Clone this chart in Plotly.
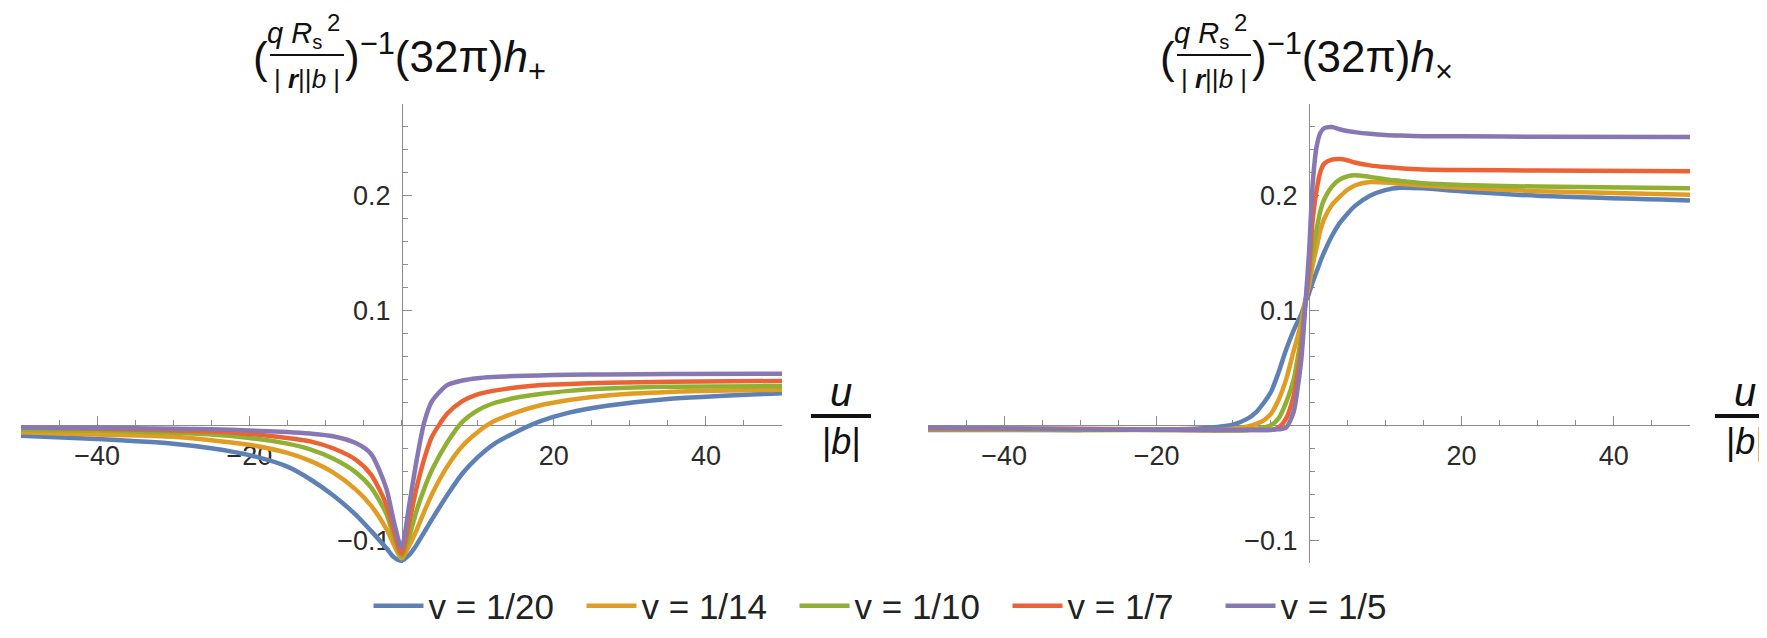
import plotly.graph_objects as go

# ---------------- data ----------------
LEGEND_NAMES = ["v = 1/20", "v = 1/14", "v = 1/10", "v = 1/7", "v = 1/5"]
COLORS = ["#5E81B5", "#E19C24", "#8FB032", "#EB6235", "#8778B3"]

# left panel: h_plus vs u/|b|
U_PLUS = [-50, -40, -30, -25, -20, -15, -12, -9, -6, -4, -2, -1, 0, 1, 2, 3, 4, 6, 8, 10, 12, 15, 18, 22, 27, 35, 50]
HP_V20 = [-0.009, -0.012, -0.016, -0.020, -0.026, -0.036, -0.047, -0.061, -0.078, -0.092, -0.107, -0.115, -0.118,
          -0.113, -0.104, -0.093, -0.082, -0.061, -0.042, -0.028, -0.017, -0.006, 0.003, 0.011, 0.017, 0.023, 0.028]
HP_V14 = [-0.006, -0.008, -0.010, -0.013, -0.017, -0.024, -0.031, -0.041, -0.056, -0.070, -0.090, -0.104, -0.116,
          -0.105, -0.091, -0.075, -0.060, -0.036, -0.018, -0.006, 0.003, 0.011, 0.017, 0.022, 0.026, 0.029, 0.031]
HP_V10 = [-0.004, -0.0045, -0.0065, -0.008, -0.011, -0.016, -0.021, -0.029, -0.041, -0.054, -0.077, -0.097, -0.114,
          -0.097, -0.074, -0.055, -0.039, -0.015, 0.003, 0.013, 0.019, 0.024, 0.027, 0.030, 0.032, 0.0335, 0.034]
HP_V7 = [-0.002, -0.003, -0.0045, -0.0055, -0.0075, -0.011, -0.014, -0.020, -0.030, -0.043, -0.069, -0.092, -0.112,
         -0.085, -0.054, -0.029, -0.010, 0.010, 0.021, 0.027, 0.030, 0.033, 0.035, 0.036, 0.037, 0.038, 0.0386]
HP_V5 = [-0.002, -0.0022, -0.003, -0.0035, -0.0045, -0.0058, -0.0072, -0.0095, -0.0155, -0.025, -0.055, -0.084,
         -0.107, -0.070, -0.030, 0.003, 0.021, 0.035, 0.039, 0.041, 0.042, 0.043, 0.0435, 0.044, 0.0443, 0.0447, 0.045]

# right panel: h_cross vs u/|b|
U_CROSS = [-50, -30, -15, -12, -10, -8, -7, -6, -5, -4, -3, -2, -1.5, -1, -0.5, 0, 0.5, 1, 1.5, 2, 3, 4, 5, 6, 8,
           10, 12, 15, 20, 30, 50]
HX_V20 = [-0.004, -0.004, -0.003, -0.0015, 0.0005, 0.006, 0.011, 0.019, 0.029, 0.046, 0.066, 0.083, 0.090, 0.097,
          0.107, 0.115, 0.125, 0.134, 0.143, 0.151, 0.165, 0.176, 0.184, 0.191, 0.200, 0.205, 0.207, 0.2065, 0.204,
          0.200, 0.196]
HX_V14 = [-0.0035, -0.004, -0.004, -0.004, -0.003, -0.001, 0.001, 0.004, 0.010, 0.022, 0.040, 0.065, 0.077, 0.090,
          0.108, 0.122, 0.140, 0.155, 0.170, 0.180, 0.192, 0.199, 0.205, 0.209, 0.212, 0.2115, 0.2105, 0.209, 0.207,
          0.204, 0.201]
HX_V10 = [-0.003, -0.004, -0.004, -0.0045, -0.0045, -0.004, -0.003, -0.002, 0.0, 0.006, 0.020, 0.040, 0.058, 0.078,
          0.106, 0.128, 0.152, 0.171, 0.187, 0.197, 0.208, 0.214, 0.217, 0.218, 0.2165, 0.2145, 0.213, 0.211, 0.2095,
          0.208, 0.2065]
HX_V7 = [-0.0025, -0.003, -0.004, -0.004, -0.004, -0.004, -0.004, -0.004, -0.004, -0.002, 0.006, 0.026, 0.045, 0.068,
         0.104, 0.135, 0.180, 0.205, 0.221, 0.228, 0.2315, 0.232, 0.231, 0.229, 0.2265, 0.225, 0.224, 0.223, 0.2225,
         0.222, 0.2215]
HX_V5 = [-0.002, -0.0035, -0.004, -0.004, -0.004, -0.004, -0.004, -0.004, -0.004, -0.0035, -0.002, 0.012, 0.032,
         0.058, 0.103, 0.150, 0.212, 0.243, 0.255, 0.259, 0.260, 0.258, 0.2565, 0.2555, 0.254, 0.253, 0.2525, 0.252,
         0.2518, 0.2515, 0.2512]

X_TICKS = [-40, -20, 20, 40]
Y_TICKS = [-0.1, 0.1, 0.2]
X_RANGE = [-50, 50]
Y_RANGE = [-0.12, 0.28]

# ---------------- figure ----------------
W, H = 1767, 638
FONT = "Liberation Sans, Arial, sans-serif"
AX_COL = "#8c8c8c"
TXT_COL = "#2a2a2a"


def px(x):
    return x / W


def py(y):
    return 1 - y / H


fig = go.Figure()
plus_series = [HP_V20, HP_V14, HP_V10, HP_V7, HP_V5]
cross_series = [HX_V20, HX_V14, HX_V10, HX_V7, HX_V5]
for i in range(5):
    fig.add_trace(go.Scatter(x=U_PLUS, y=plus_series[i], mode="lines", name=LEGEND_NAMES[i],
                             line=dict(color=COLORS[i], width=4.5, shape="spline", smoothing=0.7),
                             xaxis="x", yaxis="y", showlegend=True, legendgroup=str(i)))
for i in range(5):
    fig.add_trace(go.Scatter(x=U_CROSS, y=cross_series[i], mode="lines", name=LEGEND_NAMES[i],
                             line=dict(color=COLORS[i], width=4.5, shape="spline", smoothing=0.7),
                             xaxis="x2", yaxis="y2", showlegend=False, legendgroup=str(i)))

Y_DOM = [py(555), py(96)]
X0_POS = py(417)


def xax(dom):
    return dict(domain=dom, anchor="free", position=X0_POS, range=X_RANGE, tickvals=X_TICKS,
                ticks="inside", ticklen=9, tickwidth=1, tickcolor=AX_COL, showline=True, linecolor=AX_COL,
                linewidth=1.2, showgrid=False, zeroline=False, layer="below traces",
                tickfont=dict(family=FONT, size=27, color=TXT_COL), ticklabelstandoff=6,
                minor=dict(dtick=5, ticks="inside", ticklen=5, tickcolor=AX_COL, showgrid=False))


def yax(pos):
    return dict(domain=Y_DOM, anchor="free", position=pos, range=Y_RANGE, tickvals=Y_TICKS,
                ticks="inside", ticklen=9, tickwidth=1, tickcolor=AX_COL, showline=True, linecolor=AX_COL,
                linewidth=1.2, showgrid=False, zeroline=False, layer="below traces",
                tickfont=dict(family=FONT, size=27, color=TXT_COL), ticklabelstandoff=6,
                minor=dict(dtick=0.02, ticks="inside", ticklen=5, tickcolor=AX_COL, showgrid=False))


fig.update_layout(
    width=W, height=H, margin=dict(l=0, r=0, t=0, b=0),
    paper_bgcolor="white", plot_bgcolor="white",
    xaxis=xax([px(13), px(774)]), yaxis=yax(px(394)),
    xaxis2=xax([px(920), px(1682)]), yaxis2=yax(px(1301)),
    showlegend=True,
    legend=dict(orientation="h", x=px(893), xanchor="center", y=py(598), yanchor="middle",
                font=dict(family=FONT, size=35, color="#222"), itemwidth=50,
                entrywidth=148, entrywidthmode="pixels", bgcolor="rgba(0,0,0,0)"),
)

annotations = []
shapes = []


def add_text(x, y, text, size, xanchor="center"):
    annotations.append(dict(x=px(x), y=py(y), xref="paper", yref="paper", text=text, showarrow=False,
                            xanchor=xanchor, yanchor="middle", font=dict(family=FONT, size=size, color="#111")))


def add_title(x0, sub):
    # x0 = centre of the opening parenthesis
    add_text(x0, 50, "(", 44)
    add_text(x0 + 34, 27, "<i>q R</i><sub>s</sub>", 29)
    add_text(x0 + 73, 15, "2", 24)
    shapes.append(dict(type="line", xref="paper", yref="paper", x0=px(x0 + 10), x1=px(x0 + 84),
                       y0=py(47), y1=py(47), line=dict(color="#111", width=2)))
    add_text(x0 + 47, 71, "| <b><i>r</i></b>||<i>b</i> |", 26)
    add_text(x0 + 83, 50, ")<sup>−1</sup>(32π)<i>h</i><sub>%s</sub>" % sub, 44, xanchor="left")


def add_ulabel(xc):
    add_text(xc, 384, "<i>u</i>", 40)
    shapes.append(dict(type="line", xref="paper", yref="paper", x0=px(xc - 30), x1=px(xc + 30),
                       y0=py(408), y1=py(408), line=dict(color="#111", width=4)))
    add_text(xc, 433, "|<i>b</i>|", 36)


add_title(252, "+")
add_title(1159, "×")
add_ulabel(833)
add_ulabel(1737)

fig.update_layout(annotations=annotations, shapes=shapes)
fig.write_html("out.html")
